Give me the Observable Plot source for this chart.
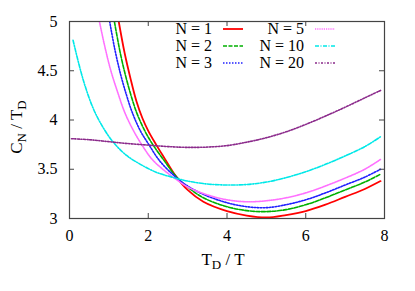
<!DOCTYPE html>
<html><head><meta charset="utf-8">
<script src="https://cdn.jsdelivr.net/npm/d3@7"></script>
<script src="https://cdn.jsdelivr.net/npm/@observablehq/plot@0.6"></script>
<style>body{margin:0;background:#fff} #chart{width:415px;height:291px}
svg text{font-family:"Liberation Serif","Times New Roman",Times,"DejaVu Serif","Noto Serif",serif !important;}</style>
</head><body><div id="chart"></div>
<script>
const xTicks = [0, 2, 4, 6, 8];
const yTicks = [3, 3.5, 4, 4.5, 5];
const seriesNames = ["N = 1", "N = 2", "N = 3", "N = 5", "N = 10", "N = 20"];
const colors = ["#ff0000", "#00b000", "#2020ff", "#ff70ff", "#00e8e8", "#8b2a8b"];
const dashes = [null, "4,1.5", "1.5,1.5", "1.2,1", "4,1.5,1,1.5", "2,1.5,1,1.5"];

const n1 = [[1.25,5.0],[1.4,4.68],[1.55,4.42],[1.7,4.19],[1.85,4.02],[2.0,3.89],[2.2,3.75],[2.4,3.62],[2.7,3.43],[3.0,3.29],[3.4,3.17],[4.0,3.075],[4.5,3.03],[5.0,3.01],[5.5,3.035],[6.0,3.075],[6.5,3.14],[7.0,3.22],[7.5,3.30],[7.9,3.38]];
const n2 = [[1.14,5.0],[1.3,4.66],[1.45,4.41],[1.6,4.2],[1.72,4.06],[1.9,3.9],[2.1,3.76],[2.4,3.59],[2.7,3.43],[3.0,3.32],[3.4,3.21],[4.0,3.12],[4.5,3.08],[5.0,3.07],[5.5,3.09],[6.0,3.14],[6.5,3.21],[7.0,3.29],[7.5,3.37],[7.9,3.45]];
const n3 = [[1.02,5.0],[1.15,4.72],[1.3,4.46],[1.45,4.25],[1.6,4.07],[1.8,3.89],[2.0,3.76],[2.3,3.58],[2.7,3.42],[3.0,3.33],[3.4,3.245],[4.0,3.16],[4.5,3.12],[5.0,3.11],[5.5,3.14],[6.0,3.19],[6.5,3.26],[7.0,3.34],[7.5,3.42],[7.9,3.50]];
const n5 = [[0.76,5.0],[0.9,4.74],[1.05,4.50],[1.2,4.31],[1.4,4.08],[1.6,3.91],[1.85,3.74],[2.1,3.60],[2.4,3.49],[2.7,3.40],[3.0,3.32],[3.5,3.24],[4.0,3.19],[4.5,3.17],[5.0,3.18],[5.5,3.21],[6.0,3.26],[6.5,3.33],[7.0,3.41],[7.5,3.50],[7.9,3.60]];
const n10 = [[0.09,4.81],[0.25,4.55],[0.4,4.34],[0.6,4.12],[0.8,3.96],[1.1,3.78],[1.45,3.64],[1.8,3.55],[2.2,3.47],[2.6,3.42],[3.0,3.38],[3.5,3.35],[4.0,3.34],[4.5,3.345],[5.0,3.37],[5.5,3.415],[6.0,3.475],[6.5,3.55],[7.0,3.635],[7.5,3.73],[7.9,3.83]];
const n20 = [[0.05,3.81],[0.5,3.80],[1.0,3.78],[1.5,3.76],[2.0,3.745],[2.5,3.73],[3.0,3.722],[3.5,3.725],[4.0,3.74],[4.5,3.775],[5.0,3.82],[5.5,3.88],[6.0,3.955],[6.5,4.04],[7.0,4.13],[7.5,4.225],[7.9,4.30]];
const allSeries = [n1, n2, n3, n5, n10, n20];

const font = "'Liberation Serif','Times New Roman',Times,'DejaVu Serif',serif";
const mL = 69, mR = 31, mT = 21, mB = 73, W = 415, H = 291;
const fw = W - mL - mR, fh = H - mT - mB;

const lineMarks = allSeries.map((s, i) => Plot.line(s, {
  x: d => d[0], y: d => d[1], stroke: colors[i],
  strokeWidth: i === 0 ? 1.8 : 1.6, strokeDasharray: dashes[i],
  curve: "catmull-rom", clip: true
}));

const chart = Plot.plot({
  width: W, height: H,
  marginLeft: mL, marginRight: mR, marginTop: mT, marginBottom: mB,
  style: {fontFamily: font, fontSize: "16px", color: "#000", background: "#fff"},
  x: {domain: [0, 8]},
  y: {domain: [3, 5]},
  marks: [
    ...lineMarks,
    Plot.ruleX(xTicks, {x: d => d, insetTop: fh - 5, stroke: "#444"}),
    Plot.ruleX(xTicks, {x: d => d, insetBottom: fh - 5, stroke: "#444"}),
    Plot.ruleY(yTicks, {y: d => d, insetRight: fw - 5, stroke: "#444"}),
    Plot.ruleY(yTicks, {y: d => d, insetLeft: fw - 5, stroke: "#444"}),
    Plot.frame({stroke: "#444", strokeWidth: 1.2}),
    Plot.axisX(xTicks, {tickSize: 0, tickPadding: 11, label: null, fontSize: 16}),
    Plot.axisY(yTicks, {tickSize: 0, tickPadding: 12, label: null, fontSize: 16, tickFormat: d => String(d)})
  ]
});
document.getElementById("chart").appendChild(chart);

const svg = d3.select(chart);
const yl = svg.append("text").attr("transform", "translate(22,127) rotate(-90)")
  .attr("text-anchor", "middle").style("font-size", "17px").attr("fill", "#000");
yl.append("tspan").text("C");
yl.append("tspan").text("N").attr("dy", 4).style("font-size", "13px");
yl.append("tspan").text(" / T").attr("dy", -4);
yl.append("tspan").text("D").attr("dy", 4).style("font-size", "13px");

const xl = svg.append("text").attr("x", 223).attr("y", 265)
  .attr("text-anchor", "middle").style("font-size", "17px").attr("fill", "#000");
xl.append("tspan").text("T");
xl.append("tspan").text("D").attr("dy", 4).style("font-size", "13px");
xl.append("tspan").text(" / T").attr("dy", -4);

const lg = svg.append("g");
seriesNames.forEach((name, i) => {
  const col = Math.floor(i / 3), row = i % 3;
  const tx = col === 0 ? 212 : 304;
  const cy = 29 + row * 17;
  lg.append("text").attr("x", tx).attr("y", cy + 5).attr("text-anchor", "end")
    .style("font-size", "16px").attr("fill", "#000").text(name);
  lg.append("line").attr("x1", tx + 11).attr("x2", tx + 31).attr("y1", cy).attr("y2", cy)
    .attr("stroke", colors[i]).attr("stroke-width", i === 0 ? 1.8 : 1.6)
    .attr("stroke-dasharray", dashes[i]);
});
</script></body></html>
